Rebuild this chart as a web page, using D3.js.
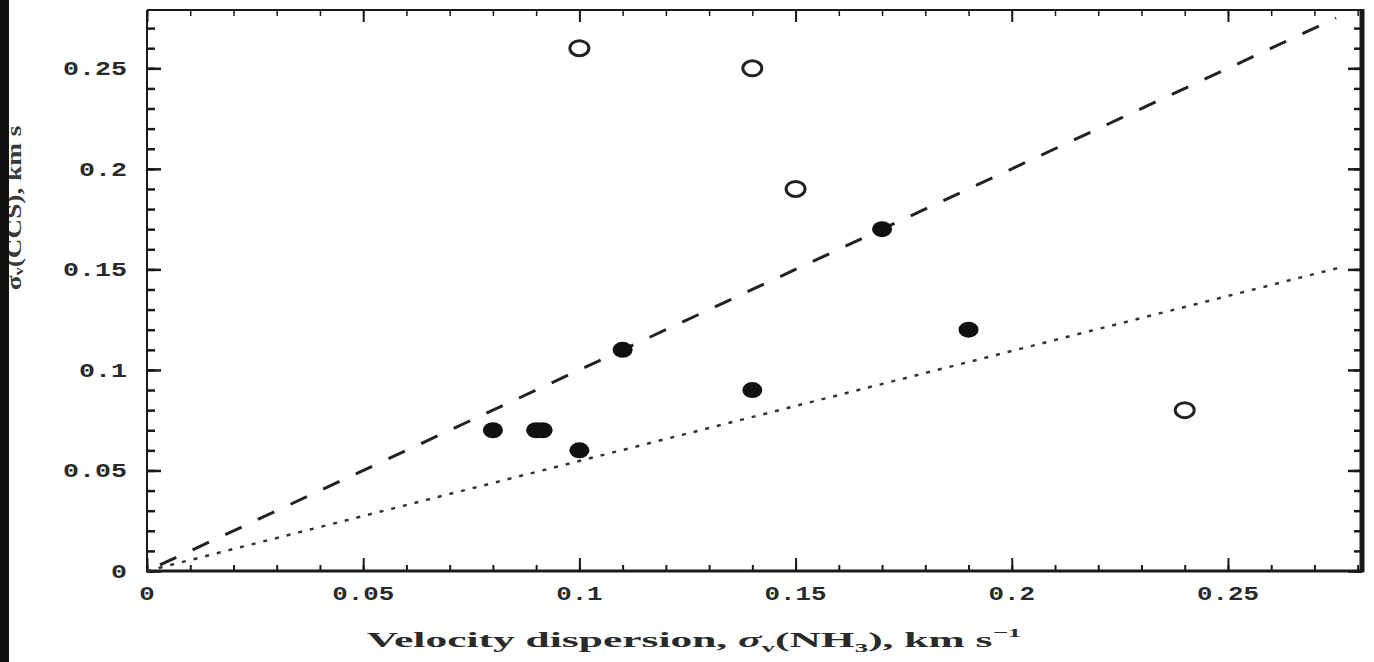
<!DOCTYPE html>
<html><head><meta charset="utf-8">
<script src="https://cdn.jsdelivr.net/npm/d3@7"></script>
<style>html,body{margin:0;padding:0;background:#fff;}svg{display:block;}</style>
</head><body>
<svg id="c" width="1374" height="662"></svg>
<script>
// Data
const filledX = [0.08, 0.09, 0.0915, 0.10, 0.11, 0.14, 0.17, 0.19];
const filledY = [0.07, 0.07, 0.07, 0.06, 0.11, 0.09, 0.17, 0.12];
const openX = [0.10, 0.14, 0.15, 0.24];
const openY = [0.26, 0.25, 0.19, 0.08];
const dashedLineX = [0.003, 0.275];
const dashedLineY = [0.003, 0.275];
const dottedLineX = [0.0, 0.276];
const dottedLineY = [0.0, 0.151];
const xTicks = [0, 0.05, 0.1, 0.15, 0.2, 0.25];
const xTickLabels = ["0", "0.05", "0.1", "0.15", "0.2", "0.25"];
const yTicks = [0, 0.05, 0.1, 0.15, 0.2, 0.25];
const yTickLabels = ["0", "0.05", "0.1", "0.15", "0.2", "0.25"];
const xTitle = "Velocity dispersion, ";
const yTitle = "σ\u1D65(CCS), km s";

const svg = d3.select("#c");
const L = 147, R = 1362, T = 10, B = 571;
const x = d3.scaleLinear().domain([0, 0.281]).range([L, R]);
const y = d3.scaleLinear().domain([0, 0.279]).range([B, T]);
const minor = d3.range(0, 0.2805, 0.01);

const ink = "#1a1a1a";
const tickFont = "'Liberation Mono', monospace";

// stretch a text element horizontally to a target width, around anchor x
function stretch(sel, target, ax, ay) {
  const w = sel.node().getBBox().width;
  const s = target / w;
  sel.attr("transform", `translate(${ax},${ay}) scale(${s},1) translate(${-ax},${-ay})`);
}

function drawAxis(axisGen, transform, sw) {
  const g = svg.append("g").attr("transform", transform).call(axisGen);
  g.select(".domain").remove();
  g.selectAll("line").attr("stroke", ink).attr("stroke-width", sw);
  return g;
}
// bottom
drawAxis(d3.axisBottom(x).tickValues(minor).tickSize(-6).tickFormat(""), `translate(0,${B})`, 2);
drawAxis(d3.axisBottom(x).tickValues(xTicks).tickSize(-13).tickFormat(""), `translate(0,${B})`, 2);
// top
drawAxis(d3.axisTop(x).tickValues(minor).tickSize(-6).tickFormat(""), `translate(0,${T})`, 1.5);
drawAxis(d3.axisTop(x).tickValues(xTicks).tickSize(-12).tickFormat(""), `translate(0,${T})`, 2);
// left
const yminor = d3.range(0, 0.2795, 0.01);
drawAxis(d3.axisLeft(y).tickValues(yminor).tickSize(-8).tickFormat(""), `translate(${L},0)`, 2.5);
drawAxis(d3.axisLeft(y).tickValues(yTicks).tickSize(-14).tickFormat(""), `translate(${L},0)`, 2.5);
// right
drawAxis(d3.axisRight(y).tickValues(yminor).tickSize(-8).tickFormat(""), `translate(${R},0)`, 2.5);
drawAxis(d3.axisRight(y).tickValues(yTicks).tickSize(-14).tickFormat(""), `translate(${R},0)`, 2.5);

// frame
svg.append("line").attr("x1", L).attr("x2", R).attr("y1", T).attr("y2", T).attr("stroke", ink).attr("stroke-width", 2);
svg.append("line").attr("x1", L-1).attr("x2", R+2).attr("y1", B).attr("y2", B).attr("stroke", ink).attr("stroke-width", 3);
svg.append("line").attr("x1", L).attr("x2", L).attr("y1", T).attr("y2", B).attr("stroke", ink).attr("stroke-width", 2);
svg.append("line").attr("x1", R).attr("x2", R).attr("y1", T-1).attr("y2", B+1).attr("stroke", ink).attr("stroke-width", 5);

// tick labels
svg.append("g").selectAll("text").data(xTicks).join("text")
  .attr("x", (d) => x(d)).attr("y", 600)
  .attr("text-anchor", "middle")
  .attr("font-family", tickFont).attr("font-weight", "bold").attr("font-size", 21)
  .attr("fill", "#2a2a2a")
  .text((d, i) => xTickLabels[i])
  .each(function (d, i) { stretch(d3.select(this), xTickLabels[i].length * 15.5, x(d), 600); });
svg.append("g").selectAll("text").data(yTicks).join("text")
  .attr("x", 127).attr("y", (d) => y(d) + 7)
  .attr("text-anchor", "end")
  .attr("font-family", tickFont).attr("font-weight", "bold").attr("font-size", 21)
  .attr("fill", "#2a2a2a")
  .text((d, i) => yTickLabels[i])
  .each(function (d, i) { stretch(d3.select(this), yTickLabels[i].length * 16, 127, y(d) + 7); });

// x title
const xt = svg.append("text").attr("x", 694).attr("y", 647).attr("text-anchor", "middle")
  .attr("font-family", "'Liberation Serif', serif").attr("font-weight", "bold").attr("font-size", 21)
  .attr("fill", "#2a2a2a");
xt.append("tspan").text(xTitle);
xt.append("tspan").attr("font-style", "italic").text("σ");
xt.append("tspan").attr("font-size", 13).attr("dy", 5).text("v");
xt.append("tspan").attr("dy", -5).text("(NH");
xt.append("tspan").attr("font-size", 13).attr("dy", 5).text("3");
xt.append("tspan").attr("dy", -5).text("), km s");
xt.append("tspan").attr("font-size", 13).attr("dy", -10).text("−1");
stretch(xt, 655, 694, 647);

// y title (mostly hidden behind the left edge)
const ytG = svg.append("g").attr("transform", "translate(21,208) rotate(-90)");
const yt = ytG.append("text").attr("x", 0).attr("y", 0)
  .attr("text-anchor", "middle")
  .attr("font-family", "'Liberation Serif', serif").attr("font-weight", "bold").attr("font-size", 20)
  .attr("fill", "#3a3a3a").text(yTitle);
stretch(yt, 165, 0, 0);
svg.append("rect").attr("x", 0).attr("y", 0).attr("width", 9).attr("height", 662).attr("fill", "#111");

// lines
const lineGen = d3.line().x((d) => x(d[0])).y((d) => y(d[1]));
svg.append("path").datum(d3.zip(dashedLineX, dashedLineY)).attr("d", lineGen)
  .attr("fill", "none").attr("stroke", "#222").attr("stroke-width", 3).attr("stroke-dasharray", "18,18");
svg.append("path").datum(d3.zip(dottedLineX, dottedLineY)).attr("d", lineGen)
  .attr("fill", "none").attr("stroke", "#333").attr("stroke-width", 2.5).attr("stroke-dasharray", "4,8");

// points
svg.append("g").selectAll("ellipse").data(d3.zip(filledX, filledY)).join("ellipse")
  .attr("cx", (d) => x(d[0])).attr("cy", (d) => y(d[1]))
  .attr("rx", 10).attr("ry", 8).attr("fill", "#111");
svg.append("g").selectAll("ellipse").data(d3.zip(openX, openY)).join("ellipse")
  .attr("cx", (d) => x(d[0])).attr("cy", (d) => y(d[1]))
  .attr("rx", 9.5).attr("ry", 7.5).attr("fill", "none").attr("stroke", "#222").attr("stroke-width", 3);
</script>
</body></html>
